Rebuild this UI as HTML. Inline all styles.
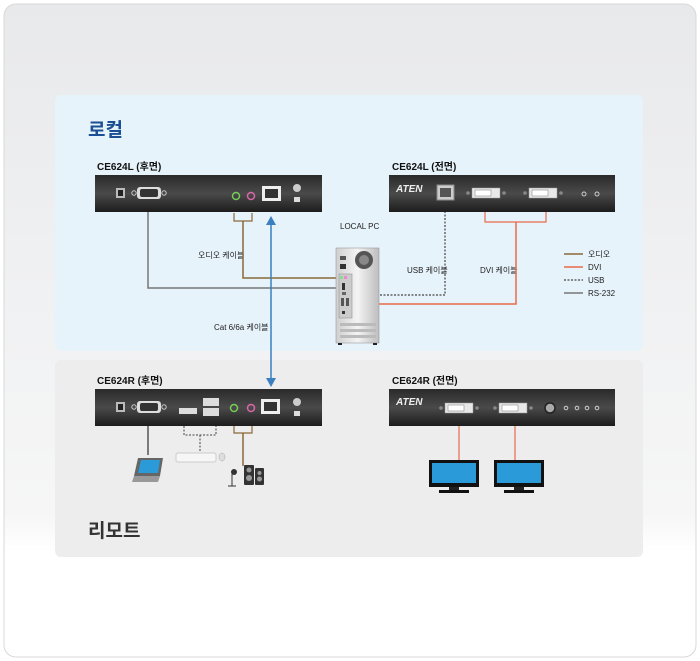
<!DOCTYPE html>
<html><head><meta charset="utf-8"><style>
html,body{margin:0;padding:0;width:700px;height:661px;overflow:hidden;background:#fff}
svg{display:block}
text{font-family:"Liberation Sans","Noto Sans CJK KR",sans-serif}
</style></head><body>
<svg width="700" height="661" viewBox="0 0 700 661" xmlns="http://www.w3.org/2000/svg">
<defs>
<linearGradient id="bg" x1="0" y1="0" x2="0" y2="1">
<stop offset="0" stop-color="#e8e9eb"/><stop offset="0.5" stop-color="#f1f2f3"/><stop offset="0.78" stop-color="#f6f6f6"/><stop offset="0.84" stop-color="#ffffff"/><stop offset="1" stop-color="#ffffff"/>
</linearGradient>
<linearGradient id="dev" x1="0" y1="0" x2="0" y2="1">
<stop offset="0" stop-color="#2a2a2a"/><stop offset="0.5" stop-color="#4a4a4a"/><stop offset="1" stop-color="#1c1c1c"/>
</linearGradient>
<linearGradient id="pc" x1="0" y1="0" x2="1" y2="0">
<stop offset="0" stop-color="#cfcfcf"/><stop offset="0.5" stop-color="#f4f4f4"/><stop offset="1" stop-color="#bdbdbd"/>
</linearGradient>
<g id="dvi"><rect x="-14" y="-5" width="28" height="10" fill="#e8e8e8" stroke="#999" stroke-width="0.5"/><rect x="-11" y="-3" width="16" height="6" fill="#fff" stroke="#777" stroke-width="0.5"/><circle cx="-18" cy="0" r="1.8" fill="#888"/><circle cx="18" cy="0" r="1.8" fill="#888"/></g>
<g id="mon"><rect x="0" y="0" width="50" height="27" fill="#111"/><rect x="3" y="3" width="44" height="20" fill="#2a9ad8"/><rect x="20" y="27" width="10" height="3" fill="#222"/><rect x="10" y="30" width="30" height="3" fill="#111"/></g>
</defs>
<rect x="0" y="0" width="700" height="661" fill="#fff"/>
<rect x="4" y="4" width="692" height="653" rx="12" fill="url(#bg)" stroke="#d8d8d8" stroke-width="1"/>
<rect x="55" y="95" width="588" height="256" rx="6" fill="#e7f3fb"/>
<rect x="55" y="360" width="588" height="197" rx="6" fill="#ededed"/>
<text x="88" y="136" font-size="19" font-weight="bold" fill="#1b4f93">로컬</text>
<text x="88" y="537" font-size="19" font-weight="bold" fill="#333">리모트</text>

<g font-size="10" font-weight="bold" fill="#111">
<text x="97" y="170">CE624L (후면)</text>
<text x="392" y="170">CE624L (전면)</text>
<text x="97" y="384">CE624R (후면)</text>
<text x="392" y="384">CE624R (전면)</text>
</g>
<g font-size="8" fill="#222">
<text x="340" y="229">LOCAL PC</text>
<text x="198" y="258">오디오 케이블</text>
<text x="214" y="330">Cat 6/6a 케이블</text>
<text x="407" y="273">USB 케이블</text>
<text x="480" y="273">DVI 케이블</text>
<text x="588" y="257">오디오</text>
<text x="588" y="270">DVI</text>
<text x="588" y="283">USB</text>
<text x="588" y="296">RS-232</text>
</g>
<line x1="564" y1="254" x2="583" y2="254" stroke="#8a6a3a" stroke-width="1.5"/>
<line x1="564" y1="267" x2="583" y2="267" stroke="#e86a4a" stroke-width="1.5"/>
<line x1="564" y1="280" x2="583" y2="280" stroke="#444" stroke-width="1.2" stroke-dasharray="2,1.5"/>
<line x1="564" y1="293" x2="583" y2="293" stroke="#777" stroke-width="1.5"/>

<polyline points="148,211 148,288 342,288" fill="none" stroke="#777" stroke-width="1.5"/>
<polyline points="234,213 234,221 252,221 252,213" fill="none" stroke="#8a6a3a" stroke-width="1.2"/>
<polyline points="243,221 243,278 342,278" fill="none" stroke="#8a6a3a" stroke-width="1.5"/>
<polyline points="445,211 445,295 350,295" fill="none" stroke="#444" stroke-width="1.2" stroke-dasharray="2,1.5"/>
<polyline points="485,212 485,222 546,222 546,212" fill="none" stroke="#e86a4a" stroke-width="1.2"/>
<polyline points="516,222 516,304 350,304" fill="none" stroke="#e86a4a" stroke-width="1.5"/>

<rect x="336" y="248" width="43" height="95" fill="url(#pc)" stroke="#999" stroke-width="0.6"/>
<circle cx="364" cy="260" r="9" fill="#555"/><circle cx="364" cy="260" r="5" fill="#888"/>
<rect x="340" y="256" width="6" height="4" fill="#555"/><rect x="340" y="264" width="6" height="5" fill="#333"/>
<rect x="339" y="274" width="13" height="44" fill="#ccc" stroke="#888" stroke-width="0.5"/>
<rect x="340" y="276" width="3" height="3" fill="#8d8"/><rect x="344" y="276" width="3" height="3" fill="#e8c"/>
<rect x="342" y="283" width="3" height="7" fill="#333"/><rect x="342" y="292" width="4" height="3" fill="#666"/>
<rect x="341" y="298" width="3" height="8" fill="#555"/><rect x="346" y="298" width="3" height="8" fill="#555"/>
<rect x="342" y="311" width="3" height="3" fill="#333"/>
<rect x="340" y="323" width="36" height="3" fill="#bbb"/><rect x="340" y="329" width="36" height="3" fill="#bbb"/><rect x="340" y="335" width="36" height="3" fill="#bbb"/>
<rect x="338" y="343" width="4" height="2" fill="#222"/><rect x="373" y="343" width="4" height="2" fill="#222"/>

<line x1="271" y1="222" x2="271" y2="380" stroke="#3a7fbf" stroke-width="1.5"/>
<polygon points="271,216 266,225 276,225" fill="#3a7fbf"/>
<polygon points="271,387 266,378 276,378" fill="#3a7fbf"/>

<rect x="95" y="175" width="227" height="37" fill="url(#dev)"/>
<rect x="116" y="188" width="9" height="10" fill="#bbb"/><rect x="118" y="190" width="5" height="6" fill="#222"/>
<circle cx="134" cy="193" r="2.2" fill="none" stroke="#ccc"/><circle cx="164" cy="193" r="2.2" fill="none" stroke="#ccc"/>
<rect x="137" y="187" width="24" height="12" rx="3" fill="#ddd"/><rect x="140" y="189" width="18" height="8" rx="2" fill="#333"/>
<circle cx="236" cy="196" r="3.5" fill="none" stroke="#7c5" stroke-width="1.5"/>
<circle cx="251" cy="196" r="3.5" fill="none" stroke="#d6a" stroke-width="1.5"/>
<rect x="262" y="186" width="19" height="15" fill="#eee"/><rect x="265" y="189" width="13" height="9" fill="#333"/>
<circle cx="297" cy="188" r="4" fill="#ccc"/><rect x="294" y="197" width="6" height="5" fill="#ddd"/>

<rect x="389" y="175" width="226" height="37" fill="url(#dev)"/>
<text x="396" y="192" font-size="10" font-weight="bold" fill="#eee" font-style="italic">ATEN</text>
<rect x="437" y="185" width="17" height="15" fill="#ccc" stroke="#888"/><rect x="440" y="188" width="11" height="9" fill="#555"/>
<use href="#dvi" x="486" y="193"/><use href="#dvi" x="543" y="193"/>
<circle cx="584" cy="194" r="2" fill="none" stroke="#ccc"/><circle cx="597" cy="194" r="2" fill="none" stroke="#ccc"/>

<line x1="148" y1="425" x2="148" y2="455" stroke="#555" stroke-width="1.5"/>
<polyline points="184,426 184,435 216,435 216,426" fill="none" stroke="#444" stroke-width="1" stroke-dasharray="2,1.5"/>
<line x1="200" y1="435" x2="200" y2="452" stroke="#444" stroke-width="1" stroke-dasharray="2,1.5"/>
<polyline points="234,426 234,433 252,433 252,426" fill="none" stroke="#8a6a3a" stroke-width="1.2"/>
<line x1="243" y1="433" x2="243" y2="466" stroke="#8a6a3a" stroke-width="1.5"/>
<line x1="459" y1="426" x2="459" y2="460" stroke="#e86a4a" stroke-width="1.2"/>
<line x1="515" y1="426" x2="515" y2="460" stroke="#e86a4a" stroke-width="1.2"/>

<rect x="95" y="389" width="227" height="37" fill="url(#dev)"/>
<rect x="116" y="402" width="9" height="10" fill="#bbb"/><rect x="118" y="404" width="5" height="6" fill="#222"/>
<circle cx="134" cy="407" r="2.2" fill="none" stroke="#ccc"/><circle cx="164" cy="407" r="2.2" fill="none" stroke="#ccc"/>
<rect x="137" y="401" width="24" height="12" rx="3" fill="#ddd"/><rect x="140" y="403" width="18" height="8" rx="2" fill="#333"/>
<rect x="179" y="408" width="18" height="6" fill="#ddd"/>
<rect x="203" y="398" width="16" height="8" fill="#ddd"/><rect x="203" y="408" width="16" height="8" fill="#ddd"/>
<circle cx="234" cy="408" r="3.5" fill="none" stroke="#7c5" stroke-width="1.5"/>
<circle cx="251" cy="408" r="3.5" fill="none" stroke="#d6a" stroke-width="1.5"/>
<rect x="261" y="399" width="19" height="15" fill="#eee"/><rect x="264" y="402" width="13" height="9" fill="#333"/>
<circle cx="297" cy="402" r="4" fill="#ccc"/><rect x="294" y="411" width="6" height="5" fill="#ddd"/>

<rect x="389" y="389" width="226" height="37" fill="url(#dev)"/>
<text x="396" y="405" font-size="10" font-weight="bold" fill="#eee" font-style="italic">ATEN</text>
<use href="#dvi" x="459" y="408"/><use href="#dvi" x="513" y="408"/>
<circle cx="550" cy="408" r="5" fill="#aaa" stroke="#222" stroke-width="1.5"/>
<circle cx="566" cy="408" r="1.8" fill="none" stroke="#ccc"/><circle cx="577" cy="408" r="1.8" fill="none" stroke="#ccc"/><circle cx="587" cy="408" r="1.8" fill="none" stroke="#ccc"/><circle cx="597" cy="408" r="1.8" fill="none" stroke="#ccc"/>

<use href="#mon" x="429" y="460"/><use href="#mon" x="494" y="460"/>
<polygon points="138,458 163,458 160,476 134,476" fill="#666"/><polygon points="141,460 160,460 158,473 138,473" fill="#2a9ad8"/>
<polygon points="134,476 160,476 158,482 132,482" fill="#999"/>
<rect x="176" y="453" width="40" height="9" rx="2" fill="#f6f6f6" stroke="#ccc"/>
<ellipse cx="222" cy="457" rx="3" ry="4" fill="#ddd" stroke="#aaa" stroke-width="0.5"/>
<line x1="232" y1="474" x2="232" y2="486" stroke="#333"/><circle cx="234" cy="472" r="3" fill="#333"/><line x1="228" y1="486" x2="236" y2="486" stroke="#333"/>
<rect x="244" y="465" width="10" height="20" rx="1" fill="#333"/><circle cx="249" cy="470" r="2.5" fill="#999"/><circle cx="249" cy="478" r="3" fill="#999"/>
<rect x="255" y="468" width="9" height="17" rx="1" fill="#333"/><circle cx="259.5" cy="473" r="2" fill="#999"/><circle cx="259.5" cy="479" r="2.5" fill="#999"/>
</svg>
</body></html>
